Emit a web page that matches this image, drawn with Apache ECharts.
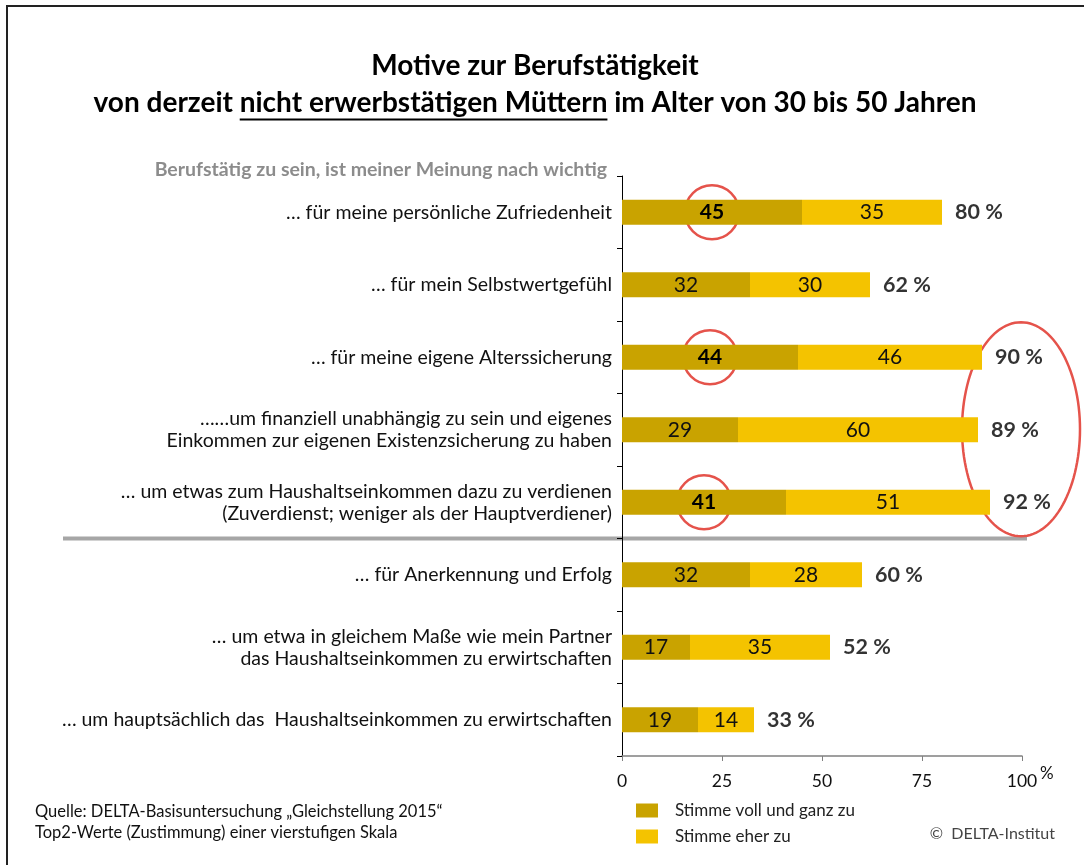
<!DOCTYPE html>
<html>
<head>
<meta charset="utf-8">
<title>Motive zur Berufstätigkeit</title>
<script src="https://cdn.jsdelivr.net/npm/echarts@6/dist/echarts.min.js"></script>
<style>
  html, body { margin: 0; padding: 0; background: #fff; }
  #chart { width: 1084px; height: 865px; }
</style>
</head>
<body>
<div id="chart"></div>
<script>
// Daten
const categories = [
  '… für meine persönliche Zufriedenheit',
  '… für mein Selbstwertgefühl',
  '… für meine eigene Alterssicherung',
  '……um finanziell unabhängig zu sein und eigenes\nEinkommen zur eigenen Existenzsicherung zu haben',
  '… um etwas zum Haushaltseinkommen dazu zu verdienen\n(Zuverdienst; weniger als der Hauptverdiener)',
  '… für Anerkennung und Erfolg',
  '… um etwa in gleichem Maße wie mein Partner\ndas Haushaltseinkommen zu erwirtschaften',
  '… um hauptsächlich das  Haushaltseinkommen zu erwirtschaften'
]
const vollGanz = [45, 32, 44, 29, 41, 32, 17, 19]
const eherZu = [35, 30, 46, 60, 51, 28, 35, 14]
const totals = [80, 62, 90, 89, 92, 60, 52, 33]
// Zeilen mit rotem Kreis um den ersten Wert
const circled = [0, 2, 4]
// Zeilen in der großen Ellipse
const ellipseRows = [2, 3, 4]
// Trennlinie nach dieser Zeile
const splitAfter = 4

const FONT = 'Lato'
const DARK = '#C9A300'
const LIGHT = '#F4C300'
const RED = '#E5534B'

let chart = echarts.init(document.getElementById('chart'))

chart.setOption({
  animation: false,
  textStyle: { fontFamily: FONT },
  grid: { left: 622, top: 176, width: 400, height: 580, containLabel: false },
  legend: {
    data: ['Stimme voll und ganz zu', 'Stimme eher zu'],
    orient: 'vertical',
    left: 636,
    top: 802,
    padding: 0,
    itemWidth: 22,
    itemHeight: 14,
    itemGap: 9,
    icon: 'rect',
    selectedMode: false,
    textStyle: { fontSize: 17, color: '#222', padding: [0, 0, 0, 12] }
  },
  xAxis: {
    type: 'value',
    min: 0,
    max: 100,
    interval: 25,
    splitLine: { show: false },
    axisLine: { show: true, lineStyle: { color: '#808080', width: 1.5 } },
    axisTick: { show: true, length: 5, lineStyle: { color: '#808080' } },
    axisLabel: { fontSize: 17.5, color: '#111', margin: 16 }
  },
  yAxis: {
    type: 'category',
    data: categories,
    inverse: true,
    axisLine: { lineStyle: { color: '#000', width: 1 } },
    axisTick: { show: true, length: 5, lineStyle: { color: '#000' } },
    axisLabel: { fontSize: 19.5, color: '#111', margin: 10, lineHeight: 22 }
  },
  series: [
    {
      name: 'Stimme voll und ganz zu',
      type: 'bar',
      stack: 'top2',
      barWidth: 25,
      itemStyle: { color: DARK },
      label: { show: true, position: 'inside', fontSize: 21, color: '#111' },
      data: vollGanz.map((v, i) => circled.includes(i) ? { value: v, label: { fontWeight: 'bold', color: '#000' } } : v)
    },
    {
      name: 'Stimme eher zu',
      type: 'bar',
      stack: 'top2',
      barWidth: 25,
      itemStyle: { color: LIGHT },
      label: { show: true, position: 'inside', fontSize: 21, color: '#111' },
      data: eherZu
    },
    {
      // Summen rechts neben den Balken
      type: 'scatter',
      symbolSize: 0,
      silent: true,
      data: totals.map((v, i) => [v, i]),
      label: {
        show: true,
        position: 'right',
        distance: 13,
        fontSize: 21.5,
        fontWeight: 'bold',
        color: '#000',
        formatter: p => p.value[0] + ' %'
      }
    }
  ]
})

// Positionen aus den Achsen holen
const px = v => chart.convertToPixel({ xAxisIndex: 0 }, v)
const py = i => chart.convertToPixel({ yAxisIndex: 0 }, i)

// Unterstreichung im Titel ausmessen
const TITLE_FONT = 'bold 28px ' + FONT
const ctx = document.createElement('canvas').getContext('2d')
ctx.font = TITLE_FONT
const t2a = 'von derzeit '
const t2b = 'nicht erwerbstätigen Müttern'
const t2 = t2a + t2b + ' im Alter von 30 bis 50 Jahren'
const titleX = 535
const uStart = titleX - ctx.measureText(t2).width / 2 + ctx.measureText(t2a).width
const uEnd = uStart + ctx.measureText(t2b).width

const graphics = []

// Rahmen
graphics.push({ type: 'polyline', shape: { points: [[7, 865], [7, 6], [1084, 6]] }, style: { stroke: '#222', lineWidth: 2, fill: null } })

// Titel
graphics.push({ type: 'text', x: titleX, y: 66, style: { text: 'Motive zur Berufstätigkeit', font: TITLE_FONT, fill: '#000', align: 'center', verticalAlign: 'middle' } })
graphics.push({ type: 'text', x: titleX, y: 103, style: { text: t2, font: TITLE_FONT, fill: '#000', align: 'center', verticalAlign: 'middle' } })
graphics.push({ type: 'line', shape: { x1: uStart, y1: 119.5, x2: uEnd, y2: 119.5 }, style: { stroke: '#000', lineWidth: 2 } })

// Überschrift der Kategorien
graphics.push({ type: 'text', x: 607, y: 170, style: { text: 'Berufstätig zu sein, ist meiner Meinung nach wichtig', font: 'bold 19.5px ' + FONT, fill: '#8c8c8c', align: 'right', verticalAlign: 'middle' } })

// Trennlinie
const sepY = (py(splitAfter) + py(splitAfter + 1)) / 2
graphics.push({ type: 'line', shape: { x1: 63, y1: sepY, x2: 1027, y2: sepY }, style: { stroke: '#A6A6A6', lineWidth: 4 } })

// Einheit an der x-Achse
graphics.push({ type: 'text', x: px(100) + 18, y: 774, style: { text: '%', font: '17px ' + FONT, fill: '#111', align: 'left', verticalAlign: 'middle' } })

// Kreise um die hervorgehobenen Werte
circled.forEach(i => {
  graphics.push({ type: 'circle', shape: { cx: px(vollGanz[i] / 2), cy: py(i), r: 27 }, style: { stroke: RED, lineWidth: 2.5, fill: null } })
})

// Ellipse um die Summen
const eTop = py(ellipseRows[0]) - 35
const eBot = py(ellipseRows[ellipseRows.length - 1]) + 34
const ecx = 1021, ecy = (eTop + eBot) / 2, erx = 59, ery = (eBot - eTop) / 2
const pts = []
for (let k = 0; k < 120; k++) {
  const a = (k / 120) * Math.PI * 2
  pts.push([ecx + erx * Math.cos(a), ecy + ery * Math.sin(a)])
}
graphics.push({ type: 'polygon', shape: { points: pts }, style: { stroke: RED, lineWidth: 2.5, fill: null } })

// Quelle und Copyright
graphics.push({ type: 'text', x: 35, y: 812, style: { text: 'Quelle: DELTA-Basisuntersuchung „Gleichstellung 2015“', font: '16.5px ' + FONT, fill: '#111', verticalAlign: 'middle' } })
graphics.push({ type: 'text', x: 35, y: 833, style: { text: 'Top2-Werte (Zustimmung) einer vierstufigen Skala', font: '16.5px ' + FONT, fill: '#111', verticalAlign: 'middle' } })
graphics.push({ type: 'text', x: 1055, y: 834, style: { text: '©  DELTA-Institut', font: '16px ' + FONT, fill: '#444', align: 'right', verticalAlign: 'middle' } })

chart.setOption({ graphic: graphics })
</script>
</body>
</html>
